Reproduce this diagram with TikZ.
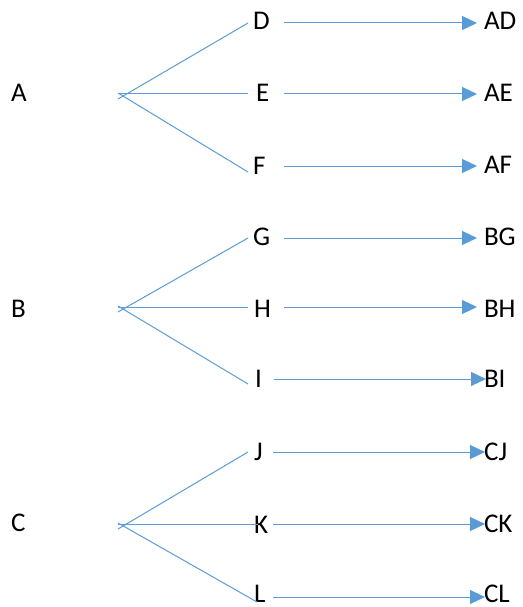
\documentclass[tikz,border=0pt]{standalone}
\usepackage{fontspec}
\setmainfont{Carlito}
\usetikzlibrary{arrows.meta}
\definecolor{lineblue}{HTML}{5B9BD5}
\tikzset{
  lbl/.style={anchor=base west, inner sep=0pt, outer sep=0pt, font=\fontsize{27}{30}\selectfont},
  branch/.style={draw=lineblue, line width=1pt},
  arr/.style={draw=lineblue, line width=1pt, -{Triangle[length=15pt,width=14pt,fill=lineblue]}}
}
\begin{document}
\begin{tikzpicture}[x=1pt,y=-1pt]
\useasboundingbox (0,0) rectangle (522,607);
% left labels
\node[lbl] (A) at (11,102) {A};
\node[lbl] (B) at (11,317) {B};
\node[lbl] (C) at (11,531) {C};
% middle labels
\node[lbl] (D) at (253,30) {D};
\node[lbl] (E) at (256,102) {E};
\node[lbl] (F) at (253,174) {F};
\node[lbl] (G) at (253,245) {G};
\node[lbl] (H) at (254,317) {H};
\node[lbl] (I) at (255,387) {I};
\node[lbl] (J) at (254,460) {J};
\node[lbl] (K) at (254,533) {K};
\node[lbl] (L) at (254,602) {L};
% right labels
\node[lbl] (AD) at (484,30) {AD};
\node[lbl] (AE) at (484,102) {AE};
\node[lbl] (AF) at (484,173) {AF};
\node[lbl] (BG) at (484,245) {BG};
\node[lbl] (BH) at (484,317) {BH};
\node[lbl] (BI) at (484,387) {BI};
\node[lbl] (CJ) at (484,460) {CJ};
\node[lbl] (CK) at (484,532) {CK};
\node[lbl] (CL) at (484,602) {CL};
% branch origins and ends
\coordinate (oAu) at (118,99);
\coordinate (oAm) at (118,94);
\coordinate (oAd) at (118,93);
\coordinate (eD) at (248,23);
\coordinate (eE) at (248,94);
\coordinate (eF) at (248,172);
\coordinate (oBu) at (118,312);
\coordinate (oBm) at (118,307);
\coordinate (oBd) at (118,306);
\coordinate (eG) at (248,238);
\coordinate (eH) at (248,307);
\coordinate (eI) at (248,384);
\coordinate (oCu) at (118,529);
\coordinate (oCm) at (118,524);
\coordinate (oCd) at (118,523);
\coordinate (eJ) at (248,452);
\coordinate (eK) at (258,524);
\coordinate (eL) at (257,602);
\draw[branch] (oAu) -- (eD);
\draw[branch] (oAm) -- (eE);
\draw[branch] (oAd) -- (eF);
\draw[branch] (oBu) -- (eG);
\draw[branch] (oBm) -- (eH);
\draw[branch] (oBd) -- (eI);
\draw[branch] (oCu) -- (eJ);
\draw[branch] (oCm) -- (eK);
\draw[branch] (oCd) -- (eL);
% arrows
\coordinate (sD) at (284,23);  \coordinate (tD) at (477,23);
\coordinate (sE) at (284,94);  \coordinate (tE) at (477,94);
\coordinate (sF) at (284,166); \coordinate (tF) at (477,166);
\coordinate (sG) at (284,238); \coordinate (tG) at (477,238);
\coordinate (sH) at (284,307); \coordinate (tH) at (477,307);
\coordinate (sI) at (274,379); \coordinate (tI) at (486,379);
\coordinate (sJ) at (273,452); \coordinate (tJ) at (485,452);
\coordinate (sK) at (273,524); \coordinate (tK) at (485,524);
\coordinate (sL) at (273,597); \coordinate (tL) at (485,597);
\draw[arr] (sD) -- (tD);
\draw[arr] (sE) -- (tE);
\draw[arr] (sF) -- (tF);
\draw[arr] (sG) -- (tG);
\draw[arr] (sH) -- (tH);
\draw[arr] (sI) -- (tI);
\draw[arr] (sJ) -- (tJ);
\draw[arr] (sK) -- (tK);
\draw[arr] (sL) -- (tL);
\end{tikzpicture}
\end{document}
